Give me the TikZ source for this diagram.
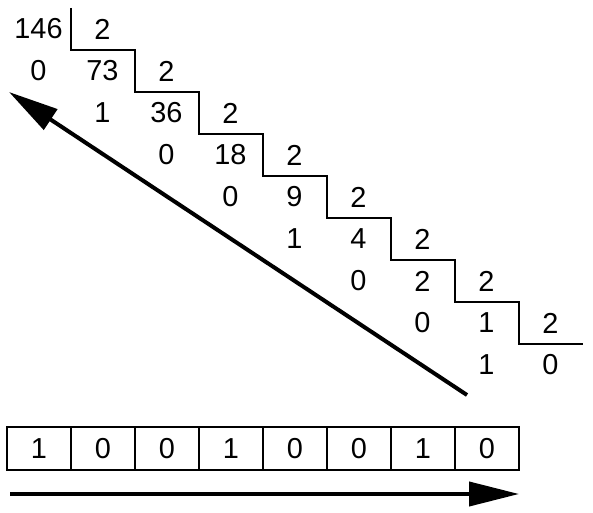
\documentclass[tikz,border=0pt]{standalone}
\usepackage{fontspec}
\setmainfont{Liberation Sans}
\usetikzlibrary{arrows.meta}
\tikzset{
  num/.style={inner sep=0pt, font=\fontsize{29}{34}\selectfont},
  cell/.style={draw, line width=2bp, minimum width=64bp, minimum height=43bp, inner sep=0pt, font=\fontsize{29}{34}\selectfont},
  bigarrow/.style={line width=4bp, -{Triangle[length=50bp,width=24bp]}}
}

\begin{document}
\begin{tikzpicture}[x=1bp,y=-1bp]
\useasboundingbox (0,0) rectangle (593,513);
% divisions
\node[num] (q0) at (38.5,29) {146};
\node[num] (d0) at (102.5,29) {2};
\node[num] (r1) at (38.5,71) {0};
\node[num] (q1) at (102.5,71) {73};
\node[num] (d1) at (166.5,71) {2};
\node[num] (r2) at (102.5,113) {1};
\node[num] (q2) at (166.5,113) {36};
\node[num] (d2) at (230.5,113) {2};
\node[num] (r3) at (166.5,155) {0};
\node[num] (q3) at (230.5,155) {18};
\node[num] (d3) at (294.5,155) {2};
\node[num] (r4) at (230.5,197) {0};
\node[num] (q4) at (294.5,197) {9};
\node[num] (d4) at (358.5,197) {2};
\node[num] (r5) at (294.5,239) {1};
\node[num] (q5) at (358.5,239) {4};
\node[num] (d5) at (422.5,239) {2};
\node[num] (r6) at (358.5,281) {0};
\node[num] (q6) at (422.5,281) {2};
\node[num] (d6) at (486.5,281) {2};
\node[num] (r7) at (422.5,323) {0};
\node[num] (q7) at (486.5,323) {1};
\node[num] (d7) at (550.5,323) {2};
\node[num] (r8) at (486.5,365) {1};
\node[num] (q8) at (550.5,365) {0};
% stairs
\draw[line width=1.5bp] (71,8) -- ++(0,42)
-- ++(64,0) -- ++(0,42) -- ++(64,0) -- ++(0,42)
-- ++(64,0) -- ++(0,42) -- ++(64,0) -- ++(0,42)
-- ++(64,0) -- ++(0,42) -- ++(64,0) -- ++(0,42)
-- ++(64,0) -- ++(0,42) -- ++(64,0);
% read upwards
\coordinate (up0) at (467,395);
\coordinate (up1) at (9,92);
\draw[bigarrow] (up0) -- (up1);
% result
\node[cell] (b1) at (39,448.5) {1};
\node[cell] (b2) at (103,448.5) {0};
\node[cell] (b3) at (167,448.5) {0};
\node[cell] (b4) at (231,448.5) {1};
\node[cell] (b5) at (295,448.5) {0};
\node[cell] (b6) at (359,448.5) {0};
\node[cell] (b7) at (423,448.5) {1};
\node[cell] (b8) at (487,448.5) {0};
\coordinate (rd0) at (10,494);
\coordinate (rd1) at (519,494);
\draw[bigarrow] (rd0) -- (rd1);
\end{tikzpicture}
\end{document}
